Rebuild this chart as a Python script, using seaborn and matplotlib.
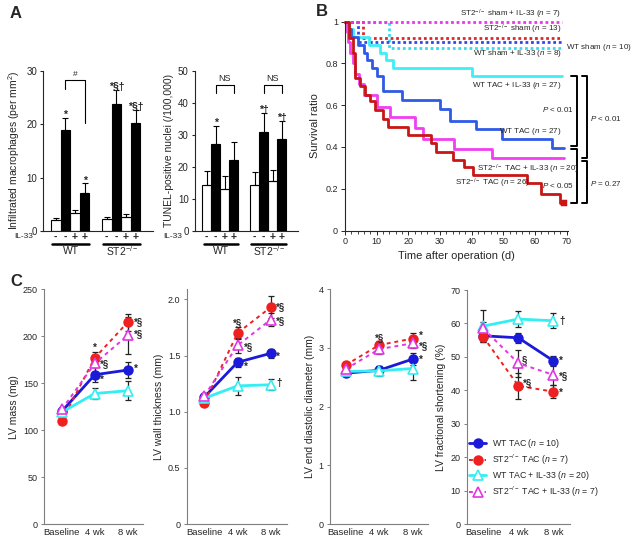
import numpy as np
import pandas as pd
import seaborn as sns
import matplotlib.pyplot as plt
from matplotlib.ticker import MultipleLocator

sns.set_style('ticks')
plt.rcParams['font.family'] = ['Liberation Sans', 'DejaVu Sans']
plt.rcParams['mathtext.fontset'] = 'custom'
plt.rcParams['mathtext.rm'] = 'Liberation Sans'
plt.rcParams['mathtext.it'] = 'Liberation Sans:italic'
plt.rcParams['axes.linewidth'] = 0.8

# ---------------- panel A data ----------------
bar_pos = [0, 1, 2, 3, 5.3, 6.3, 7.3, 8.3]
bar_tac = ['sham', 'TAC', 'sham', 'TAC', 'sham', 'TAC', 'sham', 'TAC']
il33_signs = ['-', '-', '+', '+', '-', '-', '+', '+']
geno_names = ['WT', 'ST2$^{-/-}$']
mac_mean = [2.0, 18.9, 3.3, 7.2, 2.3, 23.8, 2.7, 20.3]
mac_err = [0.5, 2.2, 0.7, 1.7, 0.4, 2.6, 0.5, 2.3]
mac_marks = ['', '*', '', '*', '', '*§†', '', '*§†']
tunel_mean = [14.2, 27.1, 13.2, 22.2, 14.2, 31.0, 15.5, 28.6]
tunel_err = [4.4, 5.7, 4.1, 5.7, 4.2, 5.9, 3.6, 5.7]
tunel_marks = ['', '*', '', '', '', '*†', '', '*†']

# ---------------- panel B data (Kaplan-Meier steps) ----------------
st2_sham_il_t = [0, 68.4]
st2_sham_il_s = [1.0, 1.0]
st2_sham_t = [0, 5.8, 68.4]
st2_sham_s = [1.0, 0.923, 0.923]
wt_sham_t = [0, 4, 68.4]
wt_sham_s = [1.0, 0.9, 0.9]
wt_sham_il_t = [0, 14, 68.4]
wt_sham_il_s = [1.0, 0.875, 0.875]
wt_tac_il_t = [0, 1.3, 2.5, 7.5, 11, 13, 15, 40, 68.5]
wt_tac_il_s = [1.0, 0.963, 0.926, 0.889, 0.852, 0.815, 0.778, 0.741, 0.741]
wt_tac_t = [0, 1, 2, 4, 6, 7, 8.5, 10, 12, 18, 30, 33, 41.5, 49.5, 65.5, 69]
wt_tac_s = [1.0, 0.963, 0.926, 0.889, 0.852, 0.815, 0.778, 0.741, 0.667, 0.625,
            0.58, 0.525, 0.487, 0.437, 0.397, 0.397]
st2_tac_il_t = [0, 0.5, 1, 1.5, 2.5, 3, 4.5, 6, 10, 14.3, 22, 24.5, 34.5, 46.5, 69]
st2_tac_il_s = [1.0, 0.95, 0.9, 0.85, 0.8, 0.75, 0.7, 0.65, 0.59, 0.545, 0.49,
                0.44, 0.39, 0.345, 0.345]
st2_tac_t = [0, 1.3, 2.6, 3.2, 4.7, 6.3, 8, 9.5, 12, 13.7, 20, 27.3, 28.7, 34.2,
             37.6, 40.5, 57.3, 62, 67.8, 69]
st2_tac_s = [1.0, 0.92, 0.85, 0.73, 0.69, 0.65, 0.62, 0.576, 0.536, 0.496, 0.456,
             0.42, 0.376, 0.336, 0.304, 0.264, 0.225, 0.177, 0.13, 0.13]

# ---------------- panel C data (WT TAC, ST2 TAC, WT TAC+IL-33, ST2 TAC+IL-33) ----------------
c_times = ['Baseline', '4 wk', '8 wk']
lv_mass = [[120, 159, 164], [110, 177, 215], [119, 139, 142], [122, 171, 201]]
lv_mass_err = [[3, 8, 9], [3, 6, 9], [3, 6, 10], [3, 9, 20]]
wall = [[1.13, 1.44, 1.52], [1.08, 1.70, 1.93], [1.12, 1.23, 1.24], [1.14, 1.59, 1.82]]
wall_err = [[0.03, 0.04, 0.04], [0.03, 0.05, 0.10], [0.03, 0.08, 0.05], [0.03, 0.07, 0.06]]
lvedd = [[2.57, 2.62, 2.81], [2.71, 3.05, 3.16], [2.60, 2.61, 2.65], [2.64, 2.98, 3.08]]
lvedd_err = [[0.04, 0.08, 0.10], [0.05, 0.07, 0.10], [0.04, 0.08, 0.20], [0.05, 0.08, 0.08]]
frac_sh = [[56.3, 55.7, 48.8], [56.0, 41.3, 39.6], [59.2, 61.3, 60.8], [58.5, 48.1, 44.6]]
frac_sh_err = [[1.5, 1.5, 1.5], [1.5, 3.8, 2.0], [4.8, 2.3, 2.3], [2.0, 4.0, 3.0]]
c_labels = [r'WT TAC ($n$ = 10)', r'ST2$^{-/-}$ TAC ($n$ = 7)',
            r'WT TAC + IL-33 ($n$ = 20)', r'ST2$^{-/-}$ TAC + IL-33 ($n$ = 7)']

W, H = 633, 540


def box(l, t, r, b):
    return [l / W, 1 - b / H, (r - l) / W, (b - t) / H]


fig = plt.figure(figsize=(W / 100, H / 100), dpi=100)


# ---------------- panel A ----------------
def bar_panel(ax, means, errs, marks, ymax, step, ylabel, il_x):
    df = pd.DataFrame({'pos': bar_pos, 'val': means, 'tac': bar_tac})
    sns.barplot(data=df, x='pos', y='val', hue='tac', native_scale=True, width=1.0,
                palette={'sham': 'white', 'TAC': 'black'}, saturation=1,
                edgecolor='black', linewidth=0.8, errorbar=None, legend=False, ax=ax)
    ax.errorbar(bar_pos, means, yerr=[np.zeros(len(errs)), errs], fmt='none',
                ecolor='black', elinewidth=0.8, capsize=2, capthick=0.8, zorder=3,
                label='_nolegend_')
    for x, m, e, s in zip(bar_pos, means, errs, marks):
        if s:
            ax.text(x, m + e, s, ha='center', va='baseline', fontsize=7.5,
                    fontweight='bold')
    ax.set_xlim(-1.3, 10.1)
    ax.set_ylim(0, ymax)
    ax.set_yticks(np.arange(0, ymax + 1, step))
    ax.set_xticks([])
    ax.set_xlabel('')
    ax.set_ylabel(ylabel, fontsize=7.5, labelpad=3)
    sns.despine(ax=ax)
    ax.tick_params(axis='y', labelsize=7, length=2.5, width=0.8, pad=2)
    trans = ax.get_xaxis_transform()
    for x, s in zip(bar_pos, il33_signs):
        ax.text(x, -0.035, s, transform=trans, ha='center', va='center',
                fontsize=7.5, fontweight='bold')
    ax.text(il_x, -0.035, 'IL-33', transform=ax.transAxes, ha='center',
            va='center', fontsize=6)
    for i, g in enumerate(geno_names):
        x0, x1 = bar_pos[4 * i] - 0.35, bar_pos[4 * i + 3] + 0.5
        ax.plot([x0, x1], [-0.08, -0.08], transform=trans, color='black', lw=1.8,
                clip_on=False)
        ax.text((x0 + x1) / 2, -0.125, g, transform=trans, ha='center', va='center',
                fontsize=7.5)


axA1 = fig.add_axes(box(43.3, 70.7, 153, 231))
bar_panel(axA1, mac_mean, mac_err, mac_marks, 30, 10,
          'Infiltrated macrophages (per mm$^2$)', -0.18)
axA1.plot([1, 1, 3, 3], [26.5, 28.3, 28.3, 20.2], color='black', lw=0.8)
axA1.text(2, 28.6, '#', ha='center', va='bottom', fontsize=6)

axA2 = fig.add_axes(box(195, 70.7, 298, 231))
bar_panel(axA2, tunel_mean, tunel_err, tunel_marks, 50, 10,
          'TUNEL-positive nuclei (/100,000)', -0.22)
for a, b in [(1, 3), (6.3, 8.3)]:
    axA2.plot([a, a, b, b], [43.1, 45.5, 45.5, 43.1], color='black', lw=0.8)
    axA2.text((a + b) / 2, 46.3, 'NS', ha='center', va='bottom', fontsize=6.5)

# ---------------- panel B ----------------
axB = fig.add_axes(box(345, 21.6, 568, 230.5))
dot = (0, (1, 1))
curves = [
    (wt_sham_il_t, wt_sham_il_s, '#33dcef', dot, 2.0),
    (wt_sham_t, wt_sham_s, '#3346ee', dot, 2.0),
    (st2_sham_t, st2_sham_s, '#e02626', dot, 2.0),
    (st2_sham_il_t, st2_sham_il_s, '#ee33ee', dot, 2.0),
    (wt_tac_il_t, wt_tac_il_s, '#3ef0f6', '-', 2.0),
    (wt_tac_t, wt_tac_s, '#2f5ae6', '-', 2.0),
    (st2_tac_il_t, st2_tac_il_s, '#f03ef0', '-', 2.0),
    (st2_tac_t, st2_tac_s, '#c81515', '-', 2.0),
]
for t, s, c, ls, lw in curves:
    sns.lineplot(x=t, y=s, drawstyle='steps-post', color=c, linestyle=ls, lw=lw,
                 estimator=None, sort=False, clip_on=False, ax=axB)
sns.scatterplot(x=[st2_tac_t[-1]], y=[st2_tac_s[-1]], marker='s', s=18,
                color='#c81515', edgecolor='#c81515', ax=axB, clip_on=False, zorder=5)
axB.set_xlim(0, 70.4)
axB.set_ylim(0, 1.0)
axB.set_xticks(range(0, 71, 10))
axB.xaxis.set_minor_locator(MultipleLocator(2))
axB.set_yticks([0, 0.2, 0.4, 0.6, 0.8, 1.0])
axB.set_yticklabels(['0', '0.2', '0.4', '0.6', '0.8', '1'])
axB.tick_params(labelsize=6.5, length=3, width=0.7, pad=2)
axB.tick_params(which='minor', length=1.8, width=0.6)
axB.set_xlabel('Time after operation (d)', fontsize=8, labelpad=3)
axB.set_ylabel('Survival ratio', fontsize=8, labelpad=4)
sns.despine(ax=axB)

b_labels = [
    (68.4, 1.036, r'ST2$^{-/-}$ sham + IL-33 ($n$ = 7)', 'right'),
    (68.4, 0.963, r'ST2$^{-/-}$ sham ($n$ = 13)', 'right'),
    (69.8, 0.875, r'WT sham ($n$ = 10)', 'left'),
    (68.4, 0.845, r'WT sham + IL-33 ($n$ = 8)', 'right'),
    (68.4, 0.696, r'WT TAC + IL-33 ($n$ = 27)', 'right'),
    (68.4, 0.472, r'WT TAC ($n$ = 27)', 'right'),
    (41.6, 0.292, r'ST2$^{-/-}$ TAC + IL-33 ($n$ = 20)', 'left'),
    (34.7, 0.227, r'ST2$^{-/-}$ TAC ($n$ = 26)', 'left'),
]
for x, y, s, ha in b_labels:
    axB.text(x, y, s, ha=ha, va='center', fontsize=5.8, clip_on=False)

# comparison brackets to the right of the curves
brackets = [(71.3, 73.2, 0.739, 0.403), (74.7, 76.3, 0.739, 0.349),
            (71.3, 73.2, 0.389, 0.131), (74.7, 76.3, 0.331, 0.131)]
for xt, xv, y0, y1 in brackets:
    axB.plot([xt, xv, xv, xt], [y0, y0, y1, y1], color='black', lw=1.4,
             clip_on=False, solid_joinstyle='round')
p_texts = [(72.3, 0.579, r'$P$ < 0.01', 'right'), (72.3, 0.216, r'$P$ < 0.05', 'right'),
           (77.2, 0.536, r'$P$ < 0.01', 'left'), (77.2, 0.224, r'$P$ = 0.27', 'left')]
for x, y, s, ha in p_texts:
    axB.text(x, y, s, ha=ha, va='center', fontsize=5.8, clip_on=False)

# ---------------- panel C ----------------
c_x = [0, 1, 2]
c_colors = ['#1a1ad8', '#ee2020', '#33eef2', '#e236e2']
c_ls = ['-', (0, (2, 2)), '-', (0, (2, 2))]
c_lw = [2.0, 1.4, 2.0, 1.4]
c_markers = ['o', 'o', '^', '^']
c_ms = [6.3, 6.3, 6.8, 6.8]
c_mfc = ['#1a1ad8', '#ee2020', 'white', 'white']


def c_panel(ax, vals, errs, xlim, ymax, yticks, yticklabels, ylabel, notes, legend=False):
    for g in range(4):
        ax.errorbar(c_x, vals[g], yerr=errs[g], fmt='none', ecolor='#222222',
                    elinewidth=0.9, capsize=2, capthick=0.9, zorder=1,
                    label='_nolegend_')
    for g in range(4):
        sns.lineplot(x=c_x, y=vals[g], color=c_colors[g], linestyle=c_ls[g],
                     lw=c_lw[g], marker=c_markers[g], markersize=c_ms[g],
                     markerfacecolor=c_mfc[g], markeredgecolor=c_colors[g],
                     markeredgewidth=1.2, label=c_labels[g], zorder=2 + g, ax=ax)
    if ax.get_legend() is not None:
        ax.get_legend().remove()
    for x, y, s in notes:
        ha = 'center' if float(x).is_integer() else 'left'
        ax.text(x, y, s, ha=ha, va='center', fontsize=7, fontweight='bold')
    ax.set_xlim(*xlim)
    ax.set_ylim(0, ymax)
    ax.set_xticks(c_x)
    ax.set_xticklabels(c_times)
    ax.set_yticks(yticks)
    ax.set_yticklabels(yticklabels)
    ax.set_ylabel(ylabel, fontsize=7.5, labelpad=3)
    ax.tick_params(axis='x', length=0, labelsize=6.8, pad=3)
    ax.tick_params(axis='y', length=2.5, width=0.7, labelsize=6.5, pad=2,
                   color='#7f7f7f')
    sns.despine(ax=ax)
    for sp in ['left', 'bottom']:
        ax.spines[sp].set_color('#7f7f7f')
    if legend:
        h, l = ax.get_legend_handles_labels()
        ax.legend(h, l, loc='upper left', bbox_to_anchor=(0.02, 0.37), frameon=False,
                  fontsize=6.3, handlelength=2.0, handletextpad=0.6,
                  labelspacing=0.25, borderaxespad=0, borderpad=0)


axC1 = fig.add_axes(box(44.3, 289.3, 143, 524))
c_panel(axC1, lv_mass, lv_mass_err, (-0.53, 2.46), 250, range(0, 251, 50),
        [str(v) for v in range(0, 251, 50)], 'LV mass (mg)',
        [(1, 188, '*'), (1.16, 170, '*§'), (1.16, 154, '*'),
         (2.17, 215, '*§'), (2.17, 202, '*§'), (2.17, 165, '*')])

axC2 = fig.add_axes(box(186.7, 289.3, 286.7, 524))
c_panel(axC2, wall, wall_err, (-0.53, 2.48), 2.09, [0, 0.5, 1.0, 1.5, 2.0],
        ['0', '0.5', '1.0', '1.5', '2.0'], 'LV wall thickness (mm)',
        [(1, 1.79, '*§'), (1.2, 1.58, '*§'), (1.2, 1.40, '*'), (2.16, 1.93, '*§'),
         (2.16, 1.81, '*§'), (2.16, 1.49, '*'), (2.16, 1.256, '†')])

axC3 = fig.add_axes(box(330, 289.3, 428.3, 524))
c_panel(axC3, lvedd, lvedd_err, (-0.47, 2.47), 4, [0, 1, 2, 3, 4],
        ['0', '1', '2', '3', '4'], 'LV end diastolic diameter (mm)',
        [(1, 3.17, '*§'), (2.18, 3.21, '*'), (2.18, 3.04, '*§'), (2.18, 2.80, '*')])

axC4 = fig.add_axes(box(466.7, 290, 570, 524))
c_panel(axC4, frac_sh, frac_sh_err, (-0.47, 2.47), 70, range(0, 71, 10),
        [str(v) for v in range(0, 71, 10)], 'LV fractional shortening (%)',
        [(1.1, 49.0, '§'), (1.12, 42.1, '*§'), (2.16, 60.8, '†'), (2.16, 48.8, '*'),
         (2.16, 44.2, '*§'), (2.16, 39.3, '*')], legend=True)

# panel letters
for x, y, s in [(16, 13, 'A'), (322, 11, 'B'), (16, 282, 'C')]:
    fig.text(x / W, 1 - y / H, s, fontsize=12, fontweight='bold', ha='center',
             va='center')

fig.savefig('out.png', dpi=100)
